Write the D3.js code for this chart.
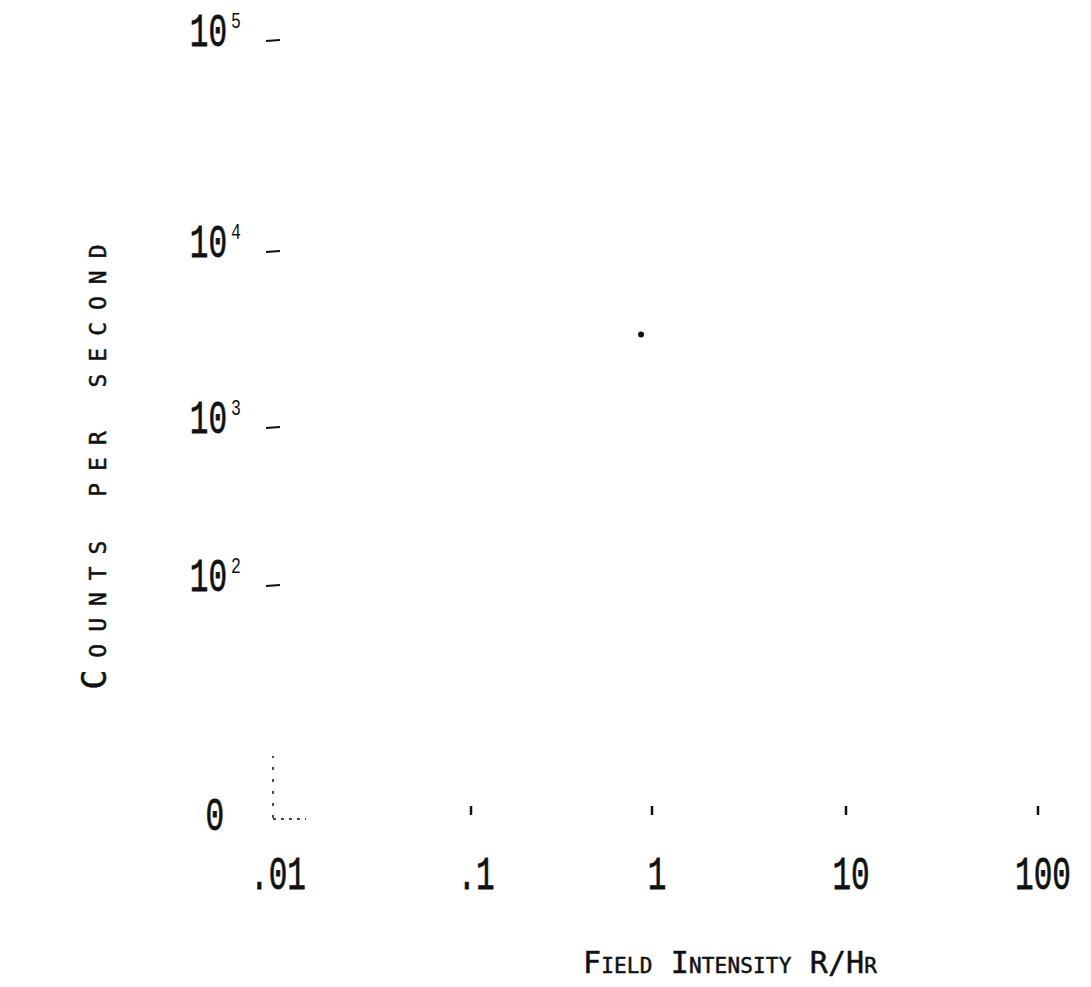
<!DOCTYPE html>
<html>
<head>
<meta charset="utf-8">
<script src="https://cdnjs.cloudflare.com/ajax/libs/d3/7.8.5/d3.min.js"></script>
<style>
body { margin: 0; background: #fff; }
svg { display: block; }
</style>
</head>
<body>
<svg id="graph"></svg>
<script>
var width = 1091, height = 987;

// data
var fieldTicks = [0.01, 0.1, 1, 10, 100];
var fieldLabels = [".01", ".1", "1", "10", "100"];
var countTicks = [100, 1000, 10000, 100000];
var countExp = ["2", "3", "4", "5"];
var points = [{field: 0.87, counts: 3400}];

var svg = d3.select("#graph").attr("width", width).attr("height", height);
var plot = svg.append("g");

// the hand drawn axes are not evenly spaced, so piecewise scales
var xScale = d3.scaleLog().domain(fieldTicks).range([273, 471, 652, 846, 1038]);
var yScale = d3.scaleSymlog().constant(1)
	.domain([0, 100, 1000, 10000, 100000])
	.range([818, 586, 428, 252, 41]);

var numFont = "'Liberation Mono', monospace";
var ink = "#111";

// y tick dashes
plot.selectAll(".ytick").data(countTicks).enter().append("line")
	.attr("x1", 266).attr("x2", 280)
	.attr("y1", function(d){return yScale(d)})
	.attr("y2", function(d){return yScale(d) - 1})
	.style("stroke", ink).style("stroke-width", 2.2);

// y labels: 10 with exponent
plot.selectAll(".ylab").data(countTicks).enter().append("text")
	.attr("transform", function(d){return "translate(227," + (yScale(d) + 5) + ") scale(0.66,1)"})
	.attr("text-anchor", "end")
	.style("font-family", numFont).style("font-size", "47px").style("fill", ink)
	.style("stroke", ink).style("stroke-width", 0.8)
	.text("10");
plot.selectAll(".yexp").data(countTicks).enter().append("text")
	.attr("transform", function(d){return "translate(231," + (yScale(d) - 13) + ") scale(0.75,1)"})
	.style("font-family", numFont).style("font-size", "22px").style("fill", ink)
	.text(function(d, i){return countExp[i]});

// zero label
plot.append("text")
	.attr("transform", "translate(224," + (yScale(0) + 12) + ") scale(0.66,1)")
	.attr("text-anchor", "end")
	.style("font-family", numFont).style("font-size", "47px").style("fill", ink)
	.style("stroke", ink).style("stroke-width", 0.8)
	.text("0");

// faint dotted corner of the axes
var x0 = xScale(fieldTicks[0]), y0 = yScale(0);
plot.append("line")
	.attr("x1", x0).attr("x2", x0).attr("y1", y0).attr("y2", y0 - 62)
	.style("stroke", ink).style("stroke-width", 1.5).style("stroke-dasharray", "3,9");
plot.append("line")
	.attr("x1", x0).attr("x2", x0 + 33).attr("y1", y0 + 1).attr("y2", y0 + 1)
	.style("stroke", ink).style("stroke-width", 1.5).style("stroke-dasharray", "3,5");

// x tick dashes
plot.selectAll(".xtick").data(fieldTicks.slice(1)).enter().append("line")
	.attr("x1", function(d){return xScale(d)}).attr("x2", function(d){return xScale(d)})
	.attr("y1", y0 - 12).attr("y2", y0 - 3)
	.style("stroke", ink).style("stroke-width", 2.5);

// x labels
plot.selectAll(".xlab").data(fieldTicks).enter().append("text")
	.attr("transform", function(d){return "translate(" + (xScale(d) + 5) + ",889) scale(0.66,1)"})
	.attr("text-anchor", "middle")
	.style("font-family", numFont).style("font-size", "47px").style("fill", ink)
	.style("stroke", ink).style("stroke-width", 0.8)
	.text(function(d, i){return fieldLabels[i]});

// data point
plot.selectAll(".pt").data(points).enter().append("circle")
	.attr("cx", function(d){return xScale(d.field)})
	.attr("cy", function(d){return yScale(d.counts)})
	.attr("r", 3)
	.style("fill", ink);

// axis titles
var titleFont = "'DejaVu Sans Mono', monospace";
plot.append("text")
	.attr("x", 730).attr("y", 973)
	.attr("text-anchor", "middle")
	.attr("textLength", 294).attr("lengthAdjust", "spacing")
	.style("font-family", titleFont).style("font-size", "30px")
	.style("font-variant", "small-caps").style("fill", ink)
	.style("stroke", ink).style("stroke-width", 0.5)
	.text("Field Intensity R/Hr");

plot.append("text")
	.attr("transform", "translate(106,467) rotate(-90)")
	.attr("text-anchor", "middle")
	.attr("textLength", 445).attr("lengthAdjust", "spacing")
	.style("font-family", titleFont).style("font-size", "33px")
	.style("font-variant", "small-caps").style("fill", ink)
	.style("stroke", ink).style("stroke-width", 0.5)
	.text("Counts per second");
</script>
</body>
</html>
